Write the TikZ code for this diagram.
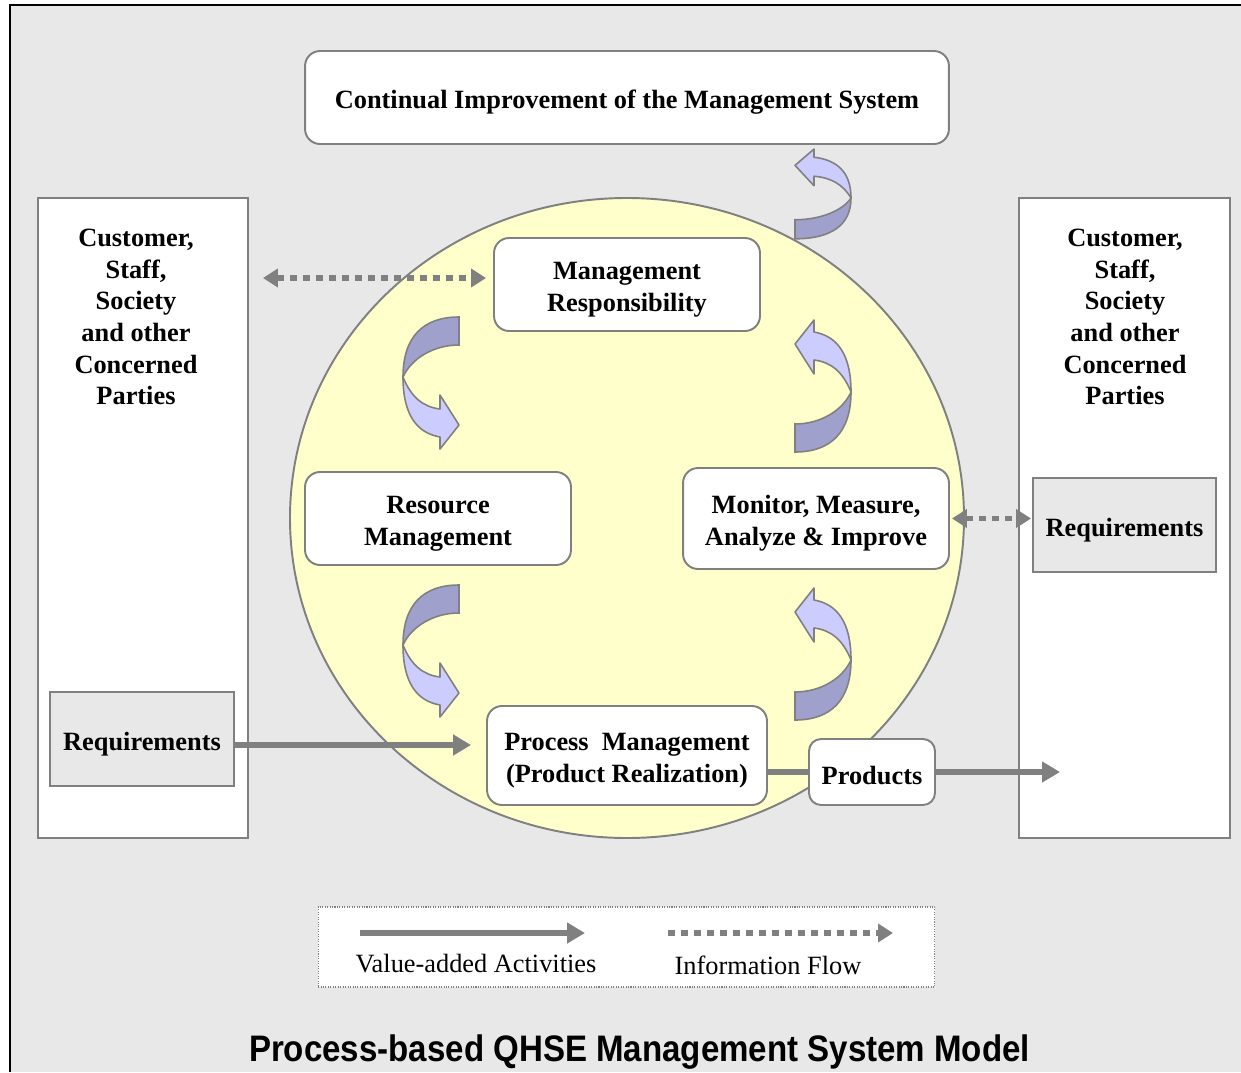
\documentclass[tikz,border=0pt]{standalone}
\usepackage{fontspec}
\setmainfont{Liberation Serif}
\newfontfamily\titlefont{Liberation Sans}
\usetikzlibrary{arrows.meta}
\definecolor{paper}{HTML}{E8E8E8}
\definecolor{edge}{HTML}{808080}
\definecolor{disc}{HTML}{FFFFCC}
\definecolor{curldark}{HTML}{A0A0CC}
\definecolor{curllight}{HTML}{CCCCFF}
\newcommand\textdrop{\rule{0pt}{15.8pt}}
\tikzset{
    plaintext/.style={align=center,inner sep=0pt,font=\bfseries\fontsize{15}{18}\selectfont},
    box/.style={plaintext,draw=edge,line width=1.1pt,fill=white},
    rbox/.style={box,rounded corners=0.3cm},
    reqbox/.style={box,fill=paper},
    valueflow/.style={draw=edge,line width=3.4pt,-{Triangle[length=0.36cm,width=0.4cm]}},
    infoflow/.style={draw=edge,line width=3.4pt,dash pattern=on 0.14cm off 0.12cm,
        {Triangle[length=0.3cm,width=0.36cm]}-{Triangle[length=0.3cm,width=0.36cm]}},
    legendtext/.style={font=\fontsize{15}{18}\selectfont},
    curl/.pic={
        \filldraw[draw=edge,line width=0.9pt,fill=curldark]
            (0,0) .. controls (0,-40) and (20,-60) .. (56,-60) -- (56,-32)
            .. controls (30,-32) and (8,-18) .. (0,0) -- cycle;
        \filldraw[draw=edge,line width=0.9pt,fill=curllight,line join=round]
            (0,0) .. controls (8,20) and (20,30) .. (37,32) -- (37,18) -- (56,48)
            -- (37,72) -- (37,60) .. controls (14,56) and (0,38) .. (0,0) -- cycle;
    }
}
\begin{document}
\begin{tikzpicture}[x=0.02cm,y=-0.02cm]
    \useasboundingbox (0,0) rectangle (1241,1072);
    \fill[white] (0,0) rectangle (1241,1072);
    \fill[paper] (10,5) rectangle (1241,1072);
    \draw[black,line width=1.7pt] (10,1072) -- (10,5) -- (1241,5);

    \draw[edge,line width=1.1pt,fill=disc] (627,518) ellipse[x radius=337,y radius=320];

    \node[rbox,minimum width=12.88cm,minimum height=1.86cm] (cimp) at (627,97.5)
        {\textdrop Continual Improvement of the Management System};

    \node[box,minimum width=4.2cm,minimum height=12.8cm] (lparty) at (143,518) {};
    \node[plaintext] (ltext) at (136,317)
        {Customer,\\Staff,\\Society\\and other\\Concerned\\Parties};
    \node[reqbox,minimum width=3.68cm,minimum height=1.88cm] (lreq) at (142,739) {\textdrop Requirements};

    \node[box,minimum width=4.22cm,minimum height=12.8cm] (rparty) at (1124.5,518) {};
    \node[plaintext] (rtext) at (1125,317)
        {Customer,\\Staff,\\Society\\and other\\Concerned\\Parties};
    \node[reqbox,minimum width=3.66cm,minimum height=1.88cm] (rreq) at (1124.5,525) {\textdrop Requirements};

    \node[rbox,minimum width=5.32cm,minimum height=1.86cm] (mresp) at (627,284.5)
        {\textdrop Management\\Responsibility};
    \node[rbox,minimum width=5.32cm,minimum height=1.86cm] (resm) at (438,518.5)
        {\textdrop Resource\\Management};
    \node[rbox,minimum width=5.32cm,minimum height=2.02cm] (mmai) at (816,518.5)
        {\textdrop Monitor, Measure,\\Analyze \& Improve};
    \node[rbox,minimum width=5.6cm,minimum height=1.98cm] (pm) at (627,755.5)
        {\textdrop Process\ \ Management\\(Product Realization)};
    \node[rbox,rounded corners=0.24cm,minimum width=2.52cm,minimum height=1.32cm] (prod) at (872,772)
        {\rule{0pt}{14pt}Products};

    \pic at (403,377) {curl};
    \pic at (403,645) {curl};
    \pic[rotate=180] at (851,392) {curl};
    \pic[rotate=180] at (851,660) {curl};
    \pic[rotate=180,yscale=0.68] at (851,198) {curl};

    \coordinate (respin) at ([yshift=0.13cm]mresp.west);
    \draw[infoflow,shorten <=0.28cm,shorten >=0.14cm] (lparty.east |- respin) -- (respin);
    \draw[infoflow,shorten <=0.04cm,shorten >=0.02cm] (mmai.east) -- (mmai.east -| rreq.west);

    \coordinate (reqout) at ([yshift=-0.12cm]lreq.east);
    \draw[valueflow,shorten >=0.3cm] (reqout) -- (reqout -| pm.west);
    \draw[edge,line width=3.4pt] (prod.west -| pm.east) -- (prod.west);
    \coordinate (prodout) at (1060,772);
    \draw[valueflow] (prod.east) -- (prodout);

    \node[draw=edge,line width=0.6pt,dash pattern=on 0.6pt off 0.8pt,fill=white,
        minimum width=12.34cm,minimum height=1.6cm] (legend) at (626.5,947) {};
    \coordinate (vstart) at (360,933);
    \coordinate (vend) at (585,933);
    \draw[valueflow] (vstart) -- (vend);
    \node[legendtext] (vtext) at (476,964) {Value-added Activities};
    \coordinate (istart) at (668,933);
    \coordinate (iend) at (893,933);
    \draw[draw=edge,line width=3.4pt,dash pattern=on 0.14cm off 0.12cm,
        -{Triangle[length=0.3cm,width=0.36cm]}] (istart) -- (iend);
    \node[legendtext] (itext) at (768,965) {Information Flow};

    \node (title) at (639.5,1052)
        {\resizebox{15.62cm}{\height}{\titlefont\bfseries\fontsize{21}{24}\selectfont Process-based QHSE Management System Model}};
\end{tikzpicture}
\end{document}
